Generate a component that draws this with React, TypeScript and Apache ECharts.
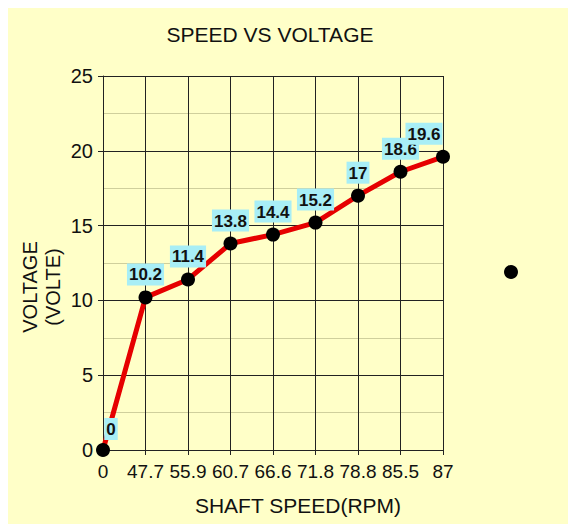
import React, { useEffect, useRef } from "react";
import * as echarts from "echarts";

const categories = ["0", "47.7", "55.9", "60.7", "66.6", "71.8", "78.8", "85.5", "87"];
const voltage = [0, 10.2, 11.4, 13.8, 14.4, 15.2, 17, 18.6, 19.6];
const seriesName = "VOLTAGE";
const titleText = "SPEED VS VOLTAGE";
const xName = "SHAFT SPEED(RPM)";
const yName = "VOLTAGE\n(VOLTE)";

const FONT = "'Liberation Sans', Arial, sans-serif";

export default function App() {
  const ref = useRef<HTMLDivElement>(null);
  useEffect(() => {
    if (!ref.current) return;
    const chart = echarts.init(ref.current, null, { renderer: "svg" });
    const lastIdx = voltage.length - 1;
    const data = voltage.map((v, i) => {
      if (i === 0) return { value: v, label: { offset: [8, 2] } };
      if (i === lastIdx) return { value: v, label: { offset: [-19, 0] } };
      return v;
    });
    chart.setOption({
      animation: false,
      backgroundColor: "#ffffc8",
      textStyle: { fontFamily: FONT },
      grid: { left: 95, right: 133, top: 68, bottom: 74, containLabel: false },
      legend: {
        data: [{ name: seriesName, icon: "circle" }],
        left: 491,
        top: 252,
        itemWidth: 14,
        itemHeight: 14,
        formatter: () => "",
        textStyle: { fontSize: 1 },
      },
      graphic: [
        {
          type: "text",
          x: 262,
          y: 26,
          style: {
            text: titleText,
            font: `21px ${FONT}`,
            fill: "#111",
            textAlign: "center",
            textVerticalAlign: "middle",
          },
        },
        {
          type: "text",
          x: 290,
          y: 497,
          style: {
            text: xName,
            font: `21px ${FONT}`,
            fill: "#111",
            textAlign: "center",
            textVerticalAlign: "middle",
          },
        },
        {
          type: "text",
          x: 33,
          y: 279,
          rotation: Math.PI / 2,
          style: {
            text: yName,
            font: `20px ${FONT}`,
            lineHeight: 23,
            fill: "#111",
            textAlign: "center",
            textVerticalAlign: "middle",
          },
        },
      ],
      xAxis: {
        type: "category",
        data: categories,
        boundaryGap: false,
        axisLine: { lineStyle: { color: "#222", width: 1 } },
        axisTick: { show: true, length: 5, lineStyle: { color: "#222" }, interval: 0 },
        axisLabel: { interval: 0, fontSize: 19, color: "#111", margin: 12, fontFamily: FONT },
        splitLine: { show: true, interval: 0, lineStyle: { color: "#222", width: 1 } },
      },
      yAxis: {
        type: "value",
        min: 0,
        max: 25,
        interval: 5,
        axisLine: { show: true, lineStyle: { color: "#222", width: 1 } },
        axisTick: { show: true, length: 5, lineStyle: { color: "#222" } },
        axisLabel: { fontSize: 20, color: "#111", margin: 10, fontFamily: FONT },
        splitLine: { show: true, lineStyle: { color: "#222", width: 1 } },
        minorTick: { show: false, splitNumber: 2 },
        minorSplitLine: { show: true, lineStyle: { color: "#cfcf9c", width: 1 } },
      },
      series: [
        {
          name: seriesName,
          type: "line",
          data,
          symbol: "circle",
          symbolSize: 14,
          itemStyle: { color: "#000" },
          lineStyle: { color: "#e60000", width: 5 },
          label: {
            show: true,
            position: "top",
            distance: 5,
            fontSize: 17,
            fontWeight: "bold",
            color: "#111",
            fontFamily: FONT,
            backgroundColor: "#a8eef6",
            padding: [3, 2, 2, 2],
            lineHeight: 17,
          },
          z: 3,
        },
      ],
    });
    return () => chart.dispose();
  }, []);
  return <div ref={ref} style={{ width: 568, height: 516 }} />;
}
